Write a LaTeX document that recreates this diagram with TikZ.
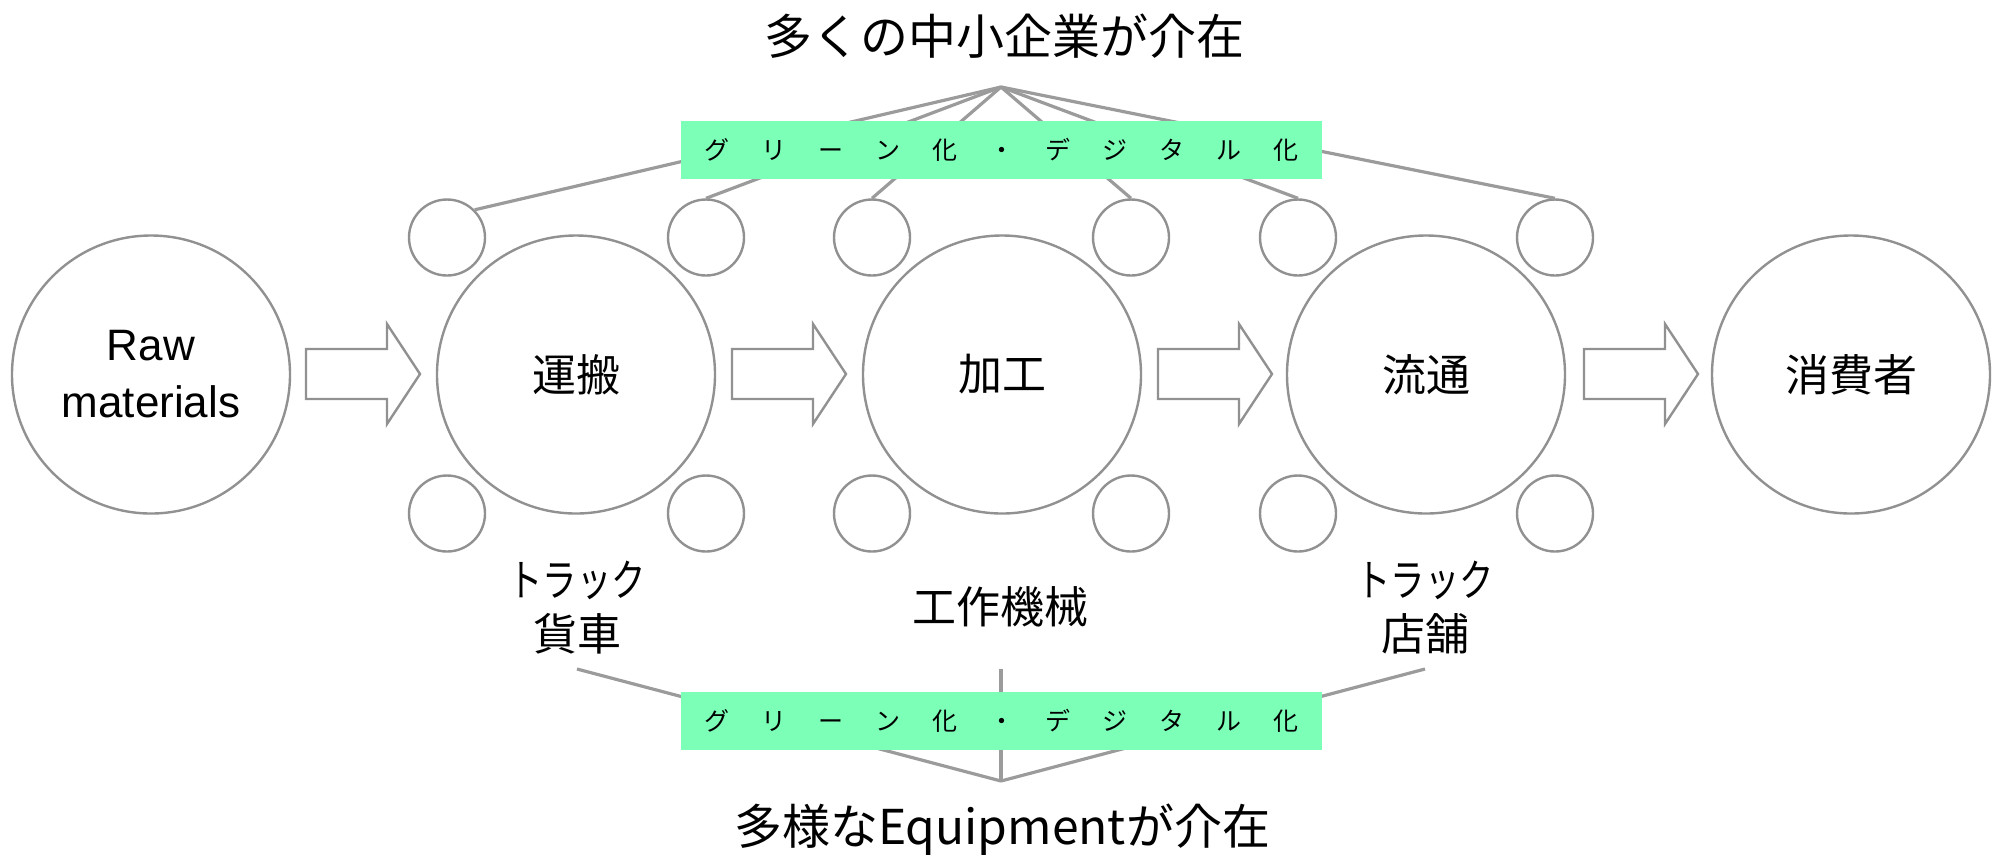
\documentclass[tikz,border=0pt]{standalone}
\usepackage{graphicx}
\usepackage{fontspec}
\setmainfont{Liberation Sans}
\newfontfamily\jp{Noto Sans CJK JP}
\definecolor{gfill}{RGB}{124,255,183}
\definecolor{lgray}{RGB}{155,155,155}
\definecolor{cgray}{RGB}{145,145,145}
\newcommand\gch[1]{\makebox[28.45pt]{#1}}
\begin{document}
\begin{tikzpicture}[x=0.5pt,y=-0.5pt,
  big/.style={circle,draw=cgray,line width=1.2pt,minimum size=139pt,inner sep=0pt,font=\jp\fontsize{22}{27}\selectfont},
  small/.style={circle,draw=cgray,line width=1.2pt,minimum size=38pt,inner sep=0pt},
  conn/.style={draw=lgray,line width=1.6pt},
  greenbox/.style={fill=gfill,minimum width=320.5pt,minimum height=29pt,inner sep=0pt,font=\jp\fontsize{12.5}{14}\selectfont},
  lbl/.style={font=\jp\fontsize{22}{27}\selectfont,align=center},
  ttl/.style={font=\jp\fontsize{24}{28}\selectfont},
  barrow/.pic={\draw[draw=cgray,line width=1.2pt,fill=white] (0,-25) -- (81,-25) -- (81,-50) -- (114,0) -- (81,50) -- (81,25) -- (0,25) -- cycle;}
]
\useasboundingbox (0,0) rectangle (1997,859);

% big circles
\node[big,font=\fontsize{22}{28.5}\selectfont,align=center] (raw) at (151,374.5) {Raw\\materials};
\node[big] (unp) at (576,374.5) {運搬};
\node[big] (kak) at (1002,374.5) {加工};
\node[big] (ryu) at (1426,374.5) {流通};
\node[big] (sho) at (1851,374.5) {消費者};

% small circles
\foreach \i/\x in {1/447,2/706,3/872,4/1131,5/1298,6/1555}{
  \node[small] (t\i) at (\x,237.5) {};
  \node[small] (b\i) at (\x,513.5) {};
}

% block arrows
\foreach \x in {306,732,1158,1584}{
  \pic at (\x,374) {barrow};
}

% top title and fan lines
\node[ttl] (toptitle) at (1004,36) {多くの中小企業が介在};
\coordinate (ta) at (1001,87);
\draw[conn] (ta) -- (t1.north east);
\foreach \i in {2,...,6}{\draw[conn] (ta) -- (t\i.north);}
\node[greenbox] (g1) at (1001.5,150) {\gch{グ}\gch{リ}\gch{ー}\gch{ン}\gch{化}\gch{・}\gch{デ}\gch{ジ}\gch{タ}\gch{ル}\gch{化}};

% bottom labels
\node[lbl] (l1) at (577,608) {\scalebox{0.78}[1]{トラック}\\貨車};
\node[lbl] (l2) at (1000,607) {工作機械};
\node[lbl] (l3) at (1425,608) {\scalebox{0.78}[1]{トラック}\\店舗};

\coordinate (s1) at (577,669);
\coordinate (s2) at (1001,669);
\coordinate (s3) at (1425,669);
\coordinate (ba) at (1001,781);
\draw[conn] (s1) -- (ba);
\draw[conn] (s2) -- (ba);
\draw[conn] (s3) -- (ba);
\node[greenbox] (g2) at (1001.5,721) {\gch{グ}\gch{リ}\gch{ー}\gch{ン}\gch{化}\gch{・}\gch{デ}\gch{ジ}\gch{タ}\gch{ル}\gch{化}};
\node[ttl] (bottitle) at (1002,830) {多様なEquipmentが介在};
\end{tikzpicture}
\end{document}
